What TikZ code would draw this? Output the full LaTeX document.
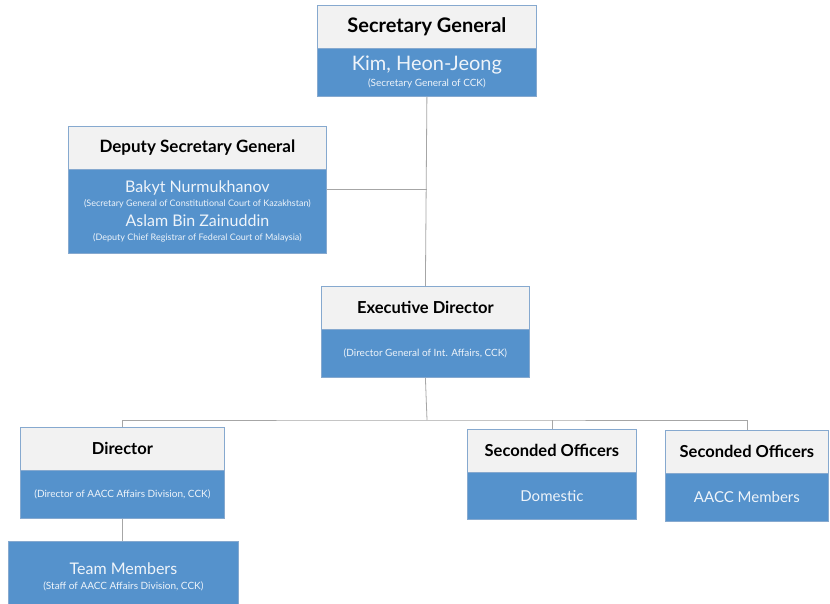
\documentclass[tikz,border=0pt]{standalone}
\usepackage{fontspec}
\setmainfont{Lato}
\usetikzlibrary{calc}
\definecolor{boxblue}{HTML}{5592CC}
\definecolor{hdrfill}{HTML}{F2F2F2}
\definecolor{boxline}{HTML}{86A9CF}
\definecolor{bodytext}{HTML}{EEF4FA}
\definecolor{conncol}{HTML}{A6A6A6}
\tikzset{
  hdr/.style={draw=boxline, line width=0.8pt, fill=hdrfill, anchor=north west, inner sep=0pt, text=black, font=\bfseries\fontsize{16.5}{18}\selectfont},
  body/.style={draw=boxline, line width=0.8pt, fill=boxblue, anchor=north west, inner sep=0pt, text=bodytext, align=center},
  conn/.style={draw=conncol, line width=0.8pt},
}
\newcommand{\bigtxt}[1]{{\fontsize{16}{18}\selectfont #1}}
\newcommand{\smtxt}[1]{{\fontsize{10}{11}\selectfont #1}}
\newcommand{\smdtxt}[1]{{\fontsize{9}{10}\selectfont #1}}
\begin{document}
\begin{tikzpicture}[x=1pt,y=-1pt]
\useasboundingbox[fill=white] (0,0) rectangle (830,604);
\coordinate (bus) at (427,420);
% Secretary General
\node[hdr, minimum width=219pt, minimum height=43pt, font=\bfseries\fontsize{20}{22}\selectfont] (sgh) at (317,5) {Secretary General};
\node[body, minimum width=219pt, minimum height=48pt] (sgb) at (317,48) {{\fontsize{20}{21}\selectfont Kim, Heon-Jeong}\\[4pt]\smtxt{(Secretary General of CCK)}};
% Deputy
\node[hdr, minimum width=258pt, minimum height=43pt, font=\bfseries\fontsize{17}{18}\selectfont] (dsh) at (68,126) {Deputy Secretary General};
\node[body, minimum width=258pt, minimum height=84pt] (dsb) at (68,169) {\bigtxt{Bakyt Nurmukhanov}\\[2pt]\smdtxt{(Secretary General of Constitutional Court of Kazakhstan)}\\[6pt]\bigtxt{Aslam Bin Zainuddin}\\[2pt]\smdtxt{(Deputy Chief Registrar of Federal Court of Malaysia)}};
\coordinate (dsr) at ($(dsh.north east)!0.5!(dsb.south east)$);
% Executive Director
\node[hdr, minimum width=208pt, minimum height=43pt] (edh) at (321,286) {Executive Director};
\node[body, minimum width=208pt, minimum height=48pt] (edb) at (321,329) {\smtxt{(Director General of Int. Affairs, CCK)}};
% Director
\node[hdr, minimum width=204pt, minimum height=43pt] (dh) at (20,427) {Director};
\node[body, minimum width=204pt, minimum height=48pt] (db) at (20,470) {\smtxt{(Director of AACC Affairs Division, CCK)}};
% Team Members
\node[body, minimum width=230pt, minimum height=70pt] (tm) at (8,541) {\bigtxt{Team Members}\\[3pt]\smtxt{(Staff of AACC Affairs Division, CCK)}};
% Seconded Officers Domestic
\node[hdr, minimum width=169pt, minimum height=43pt] (soh) at (467,429) {Seconded Officers};
\node[body, minimum width=169pt, minimum height=47pt] (sob) at (467,472) {{\fontsize{15}{17}\selectfont Domestic}};
% Seconded Officers AACC
\node[hdr, minimum width=163pt, minimum height=43pt] (sah) at (665,430) {Seconded Officers};
\node[body, minimum width=163pt, minimum height=48pt] (sab) at (665,473) {{\fontsize{15}{17}\selectfont AACC Members}};
% connectors
\draw[conn] (sgb.south) -- (edh.north);
\draw[conn] (dsr) -- (dsr -| sgb.south);
\draw[conn] (edb.south) -- (bus);
\draw[conn] (dh.north) |- (bus) -| (sah.north);
\draw[conn] (soh.north) -- (soh.north |- bus);
\draw[conn] (db.south) -- (db.south |- tm.north);
\end{tikzpicture}
\end{document}
